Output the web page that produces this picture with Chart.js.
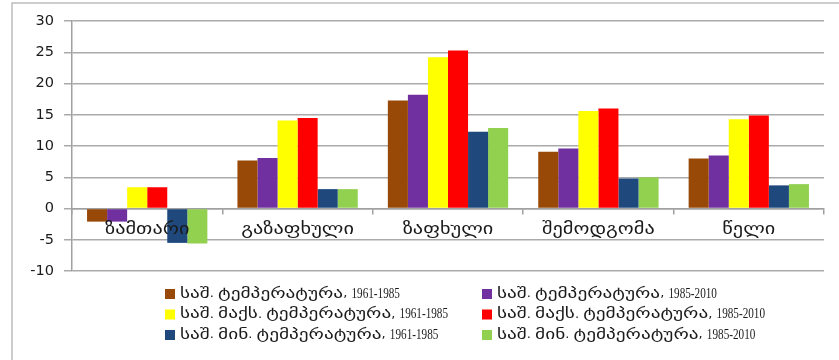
<!DOCTYPE html>
<html>
<head>
<meta charset="utf-8">
<script src="https://cdn.jsdelivr.net/npm/chart.js@4.4.1/dist/chart.umd.min.js"></script>
<style>
  html, body { margin: 0; padding: 0; background: #ffffff; }
  #wrap { position: relative; width: 839px; height: 360px; }
</style>
</head>
<body>
<div id="wrap"><canvas id="c" width="839" height="360"></canvas></div>
<script>
// Seasons plus the annual mean
const categories = ['ზამთარი', 'გაზაფხული', 'ზაფხული', 'შემოდგომა', 'წელი'];

// Mean, mean maximum and mean minimum temperature (°C) for two periods
const avgTemp1961 = [-2.1, 7.7, 17.3, 9.1, 8.0];
const avgTemp1985 = [-2.1, 8.1, 18.2, 9.6, 8.5];
const maxTemp1961 = [3.4, 14.1, 24.2, 15.6, 14.3];
const maxTemp1985 = [3.4, 14.5, 25.3, 16.0, 14.9];
const minTemp1961 = [-5.5, 3.1, 12.3, 4.8, 3.7];
const minTemp1985 = [-5.6, 3.1, 12.9, 5.0, 3.9];

const seriesLabels = [
  'საშ. ტემპერატურა, 1961-1985',
  'საშ. ტემპერატურა, 1985-2010',
  'საშ. მაქს. ტემპერატურა, 1961-1985',
  'საშ. მაქს. ტემპერატურა, 1985-2010',
  'საშ. მინ. ტემპერატურა, 1961-1985',
  'საშ. მინ. ტემპერატურა, 1985-2010'
];
const seriesColors = ['#984807', '#7030a0', '#ffff00', '#ff0000', '#1f497d', '#92d050'];

// Y axis range and step
const yMin = -10;
const yMax = 30;
const yStep = 5;

const seriesData = [avgTemp1961, avgTemp1985, maxTemp1961, maxTemp1985, minTemp1961, minTemp1985];

const FONT = '"DejaVu Sans", sans-serif';
const TEXT_COLOR = '#1a1a1a';

// Outer frame (only the left and top edges fall inside the canvas)
const framePlugin = {
  id: 'frame',
  beforeDraw(chart) {
    const ctx = chart.ctx;
    ctx.save();
    ctx.strokeStyle = '#bdbdbd';
    ctx.lineWidth = 1.5;
    ctx.beginPath();
    ctx.moveTo(12, chart.height);
    ctx.lineTo(12, 3);
    ctx.lineTo(chart.width, 3);
    ctx.stroke();
    ctx.restore();
  }
};

// Text run styles: Georgian letters, digits with hyphen, and everything else
const RUN_STYLES = {
  geo:   { font: '14.5px "DejaVu Sans", sans-serif', sx: 1.33 },
  num:   { font: '14px "Liberation Serif", serif',  sx: 0.8 },
  other: { font: '13px "DejaVu Sans", sans-serif',   sx: 1.0 }
};

function runKind(s) {
  if (/[\u10A0-\u10FF]/.test(s)) return 'geo';
  if (/[0-9\-]/.test(s)) return 'num';
  return 'other';
}

function drawMixedText(ctx, text, x, y) {
  const runs = text.match(/[\u10A0-\u10FF]+|[0-9\-]+|[^\u10A0-\u10FF0-9\-]+/g) || [];
  let cx = x;
  runs.forEach(run => {
    const st = RUN_STYLES[runKind(run)];
    ctx.font = st.font;
    ctx.save();
    ctx.translate(cx, y);
    ctx.scale(st.sx, 1);
    ctx.fillText(run, 0, 0);
    ctx.restore();
    cx += ctx.measureText(run).width * st.sx;
  });
  return cx - x;
}

// Category names just below the zero line, drawn above the bars
const categoryLabelPlugin = {
  id: 'categoryLabels',
  afterDatasetsDraw(chart) {
    const ctx = chart.ctx;
    const xs = chart.scales.x;
    const y0 = chart.scales.y.getPixelForValue(0);
    ctx.save();
    ctx.fillStyle = TEXT_COLOR;
    ctx.textBaseline = 'middle';
    ctx.textAlign = 'center';
    ctx.font = '16px ' + FONT;
    chart.data.labels.forEach((lab, i) => {
      const x = xs.getPixelForValue(i);
      ctx.save();
      ctx.translate(x, y0 + 21);
      ctx.scale(1.27, 1);
      ctx.fillText(lab, 0, 0);
      ctx.restore();
    });
    ctx.restore();
  }
};

// Two-column legend under the plot
const legendPlugin = {
  id: 'twoColLegend',
  afterDraw(chart) {
    const ctx = chart.ctx;
    const colX = [165, 482];
    const rowY = [294, 314.5, 335];
    ctx.save();
    ctx.textBaseline = 'middle';
    ctx.textAlign = 'left';
    chart.data.datasets.forEach((ds, i) => {
      const x = colX[i % 2];
      const y = rowY[Math.floor(i / 2)];
      ctx.fillStyle = ds.backgroundColor;
      ctx.fillRect(x, y - 5, 10, 10);
      ctx.fillStyle = TEXT_COLOR;
      drawMixedText(ctx, ds.label, x + 15, y);
    });
    ctx.restore();
  }
};

new Chart(document.getElementById('c'), {
  type: 'bar',
  data: {
    labels: categories,
    datasets: seriesData.map((d, i) => ({
      label: seriesLabels[i],
      data: d,
      backgroundColor: seriesColors[i],
      borderWidth: 0,
      categoryPercentage: 0.8,
      barPercentage: 1.0
    }))
  },
  options: {
    responsive: false,
    animation: false,
    devicePixelRatio: 1,
    layout: { padding: { left: 0, top: 21, right: 15, bottom: 89 } },
    plugins: {
      legend: { display: false },
      tooltip: { enabled: false },
      title: { display: false }
    },
    scales: {
      x: {
        position: { y: 0 },
        grid: {
          offset: true,
          drawOnChartArea: false,
          drawTicks: true,
          tickLength: 5,
          color: '#a0a0a0',
          lineWidth: 1.5
        },
        border: { display: true, color: '#a0a0a0', width: 1.5 },
        ticks: { display: false }
      },
      y: {
        min: yMin,
        max: yMax,
        afterFit(scale) { scale.width = 72; },
        ticks: {
          stepSize: yStep,
          color: TEXT_COLOR,
          font: { family: FONT, size: 14.5 },
          padding: 10
        },
        grid: {
          color: '#aaaaaa',
          lineWidth: 1.5,
          drawTicks: true,
          tickLength: 8
        },
        border: { display: true, color: '#a0a0a0', width: 1.5 }
      }
    }
  },
  plugins: [framePlugin, categoryLabelPlugin, legendPlugin]
});
</script>
</body>
</html>
